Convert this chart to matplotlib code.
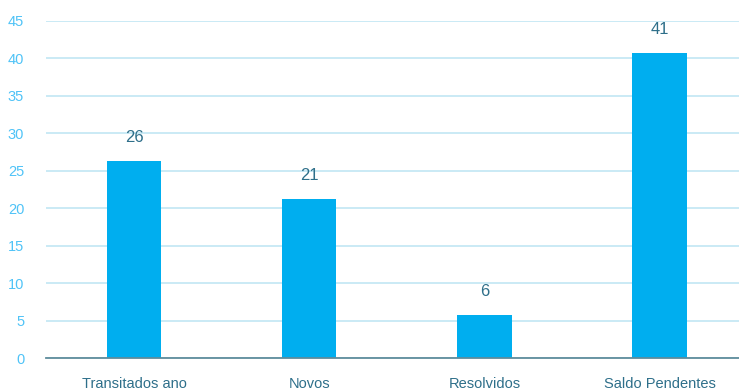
import matplotlib.pyplot as plt

categories = ["Transitados ano", "Novos", "Resolvidos", "Saldo Pendentes"]
values = [26.3, 21.2, 5.7, 40.7]
labels = ["26", "21", "6", "41"]
yticks = [0, 5, 10, 15, 20, 25, 30, 35, 40, 45]

plt.rcParams["font.family"] = ["Liberation Sans", "DejaVu Sans"]

fig = plt.figure(figsize=(7.39, 3.92), dpi=100)
# axes runs a bit past the right edge, like the original export
ax = fig.add_axes([46.4 / 739, 34 / 392, 700.8 / 739, 337 / 392])

x = range(len(categories))
ax.bar(x, values, width=0.31, color="#00aeef", zorder=3)

for xi, v, lab in zip(x, values, labels):
    ax.annotate(lab, (xi, v), xytext=(0, 17), textcoords="offset points",
                ha="center", va="center", fontsize=12, color="#2e6f8a")

ax.set_xlim(-0.5, 3.5)
ax.set_ylim(0, 45)
ax.set_yticks(yticks)
ax.set_xticks(list(x))
ax.set_xticklabels(categories, fontsize=10.5, color="#2e6f8a")
ax.tick_params(axis="x", length=0, pad=14)
ax.tick_params(axis="y", length=0, pad=16, labelsize=10.5, labelcolor="#4fc3f7")

ax.grid(axis="y", color="#c6e8f5", linewidth=1.3, zorder=0)
for s in ["top", "right", "left"]:
    ax.spines[s].set_visible(False)
ax.spines["bottom"].set_color("#5f8c9c")
ax.spines["bottom"].set_linewidth(1.3)
ax.spines["bottom"].set_zorder(4)

fig.savefig("out.png", dpi=100)
